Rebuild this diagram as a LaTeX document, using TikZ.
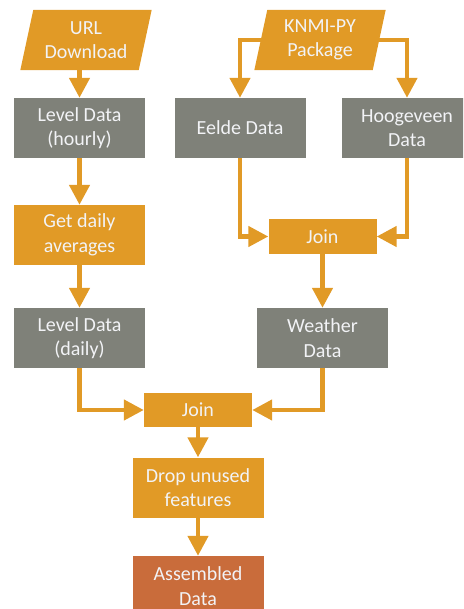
\documentclass[tikz,border=0pt]{standalone}
\usepackage{fontspec}
\setmainfont{Carlito}
\usetikzlibrary{arrows.meta,backgrounds,calc}
\definecolor{flowOrange}{HTML}{E19A26}
\definecolor{dataGray}{HTML}{7F8179}
\definecolor{resultRust}{HTML}{C96C3B}
\definecolor{labelWhite}{HTML}{F2F3F6}
\tikzset{
  box/.style={rectangle, minimum width=131pt, minimum height=60pt, inner sep=0pt,
    align=center, text=labelWhite, font=\fontsize{20}{24.5}\selectfont},
  databox/.style={box, fill=dataGray},
  procbox/.style={box, fill=flowOrange},
  joinbox/.style={box, fill=flowOrange, minimum width=108pt, minimum height=34pt},
  sourcebox/.style={box, minimum width=118pt},
  resultbox/.style={box, fill=resultRust},
  flow/.style={draw=flowOrange, line width=4.5pt, -{Triangle[length=20pt,width=20pt]}},
}
\begin{document}
\begin{tikzpicture}[x=1pt,y=-1pt]
\useasboundingbox (0,0) rectangle (463,609);
\clip (0,0) rectangle (463,609);

% sources (parallelograms filled on the background layer)
\node[sourcebox] (url)  at (86,40)  {URL\\Download};
\node[sourcebox] (knmi) at (320,40) {KNMI-PY\\Package};
\begin{scope}[on background layer]
  \foreach \n in {url,knmi}
    \fill[flowOrange] ($(\n.south west)+(-6.5,0)$) -- ($(\n.south east)+(-6.5,0)$)
      -- ($(\n.north east)+(6.5,0)$) -- ($(\n.north west)+(6.5,0)$) -- cycle;
\end{scope}

% left branch: water level
\node[databox] (lvlh) at (79.5,128) {Level Data\\(hourly)};
\node[procbox] (avg)  at (79.5,235) {Get daily\\averages};
\node[databox] (lvld) at (79.5,338) {Level Data\\(daily)};

% right branch: weather
\node[databox] (eelde)   at (240,128)   {Eelde Data};
\node[databox] (hoog)    at (407,128)   {Hoogeveen\\Data};
\node[joinbox] (join1)   at (322.5,236.5) {Join};
\node[databox] (weather) at (322.5,338) {Weather\\Data};

% merge and finish
\node[joinbox]   (join2) at (198,410)   {Join};
\node[procbox]   (drop)  at (198,487.5) {Drop unused\\features};
\node[resultbox] (asm)   at (198,586)   {Assembled\\Data};

% connectors
\draw[flow] (lvlh.north |- url.south) -- (lvlh.north);
\draw[flow] (lvlh) -- (avg);
\draw[flow] (avg) -- (lvld);
\draw[flow] (knmi.west) -| (eelde.north);
\draw[flow] (knmi.east) -| (hoog.north);
\draw[flow] (eelde.south) |- (join1.west);
\draw[flow] (hoog.south) |- (join1.east);
\draw[flow] (join1) -- (weather);
\draw[flow] (lvld.south) |- (join2.west);
\draw[flow] (weather.south) |- (join2.east);
\draw[flow] (join2) -- (drop);
\draw[flow] (drop) -- (asm);
\end{tikzpicture}
\end{document}
